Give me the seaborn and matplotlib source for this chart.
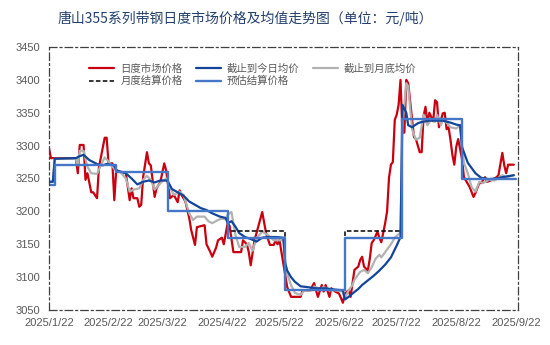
import matplotlib
matplotlib.use("Agg")
import matplotlib.pyplot as plt
import pandas as pd
import seaborn as sns

# ---- data -----------------------------------------------------------------
title = "唐山355系列带钢日度市场价格及均值走势图（单位：元/吨）"

# daily market price
daily_dates = [
    "2025-01-22", "2025-01-23", "2025-02-05", "2025-02-06", "2025-02-07", "2025-02-09",
    "2025-02-10", "2025-02-11", "2025-02-13", "2025-02-14", "2025-02-16", "2025-02-17",
    "2025-02-20", "2025-02-21", "2025-02-22", "2025-02-24", "2025-02-25", "2025-02-26",
    "2025-02-28", "2025-03-03", "2025-03-05", "2025-03-06", "2025-03-07", "2025-03-09",
    "2025-03-10", "2025-03-11", "2025-03-12", "2025-03-14", "2025-03-15", "2025-03-16",
    "2025-03-18", "2025-03-19", "2025-03-21", "2025-03-23", "2025-03-24", "2025-03-26",
    "2025-03-28", "2025-03-30", "2025-03-31", "2025-04-01", "2025-04-03", "2025-04-05",
    "2025-04-06", "2025-04-08", "2025-04-09", "2025-04-13", "2025-04-14", "2025-04-16",
    "2025-04-17", "2025-04-19", "2025-04-20", "2025-04-22", "2025-04-23", "2025-04-25",
    "2025-04-26", "2025-04-28", "2025-05-02", "2025-05-03", "2025-05-05", "2025-05-06",
    "2025-05-07", "2025-05-09", "2025-05-13", "2025-05-15", "2025-05-17", "2025-05-19",
    "2025-05-20", "2025-05-21", "2025-05-22", "2025-05-24", "2025-05-26", "2025-05-28",
    "2025-06-02", "2025-06-03", "2025-06-07", "2025-06-09", "2025-06-10", "2025-06-11",
    "2025-06-13", "2025-06-14", "2025-06-15", "2025-06-17", "2025-06-18", "2025-06-20",
    "2025-06-22", "2025-06-24", "2025-06-25", "2025-06-27", "2025-06-28", "2025-06-29",
    "2025-06-30", "2025-07-02", "2025-07-03", "2025-07-04", "2025-07-05", "2025-07-07",
    "2025-07-08", "2025-07-09", "2025-07-10", "2025-07-12", "2025-07-13", "2025-07-14",
    "2025-07-16", "2025-07-17", "2025-07-18", "2025-07-19", "2025-07-20", "2025-07-21",
    "2025-07-22", "2025-07-23", "2025-07-24", "2025-07-25", "2025-07-26", "2025-07-27",
    "2025-07-28", "2025-07-31", "2025-08-01", "2025-08-03", "2025-08-04", "2025-08-05",
    "2025-08-06", "2025-08-07", "2025-08-08", "2025-08-10", "2025-08-11", "2025-08-12",
    "2025-08-13", "2025-08-15", "2025-08-16", "2025-08-17", "2025-08-18", "2025-08-19",
    "2025-08-20", "2025-08-21", "2025-08-22", "2025-08-23", "2025-08-25", "2025-08-26",
    "2025-08-29", "2025-08-31", "2025-09-01", "2025-09-03", "2025-09-04", "2025-09-06",
    "2025-09-07", "2025-09-09", "2025-09-12", "2025-09-13", "2025-09-15", "2025-09-16",
    "2025-09-17", "2025-09-18", "2025-09-21",
]
daily_price = [
    3296, 3281, 3281, 3258, 3301, 3301,
    3248, 3258, 3229, 3229, 3220, 3267,
    3312, 3312, 3273, 3273, 3217, 3263,
    3260, 3258, 3217, 3235, 3220, 3220,
    3207, 3210, 3252, 3290, 3273, 3270,
    3222, 3235, 3245, 3273, 3262, 3220,
    3225, 3214, 3232, 3225, 3215, 3190,
    3172, 3149, 3176, 3179, 3150, 3138,
    3131, 3145, 3156, 3160, 3150, 3182,
    3178, 3138, 3138, 3156, 3150, 3138,
    3118, 3156, 3199, 3167, 3149, 3149,
    3156, 3150, 3156, 3121, 3085, 3070,
    3070, 3080, 3080, 3091, 3080, 3070,
    3088, 3078, 3088, 3070, 3083, 3078,
    3075, 3061, 3075, 3080, 3070, 3090,
    3111, 3116, 3126, 3131, 3116, 3110,
    3128, 3152, 3156, 3169, 3160, 3153,
    3182, 3200, 3251, 3271, 3275, 3339,
    3347, 3362, 3400, 3319, 3320, 3400,
    3395, 3313, 3310, 3290, 3290, 3345,
    3359, 3334, 3350, 3337, 3369, 3366,
    3328, 3349, 3350, 3325, 3328, 3309,
    3286, 3271, 3298, 3310, 3280, 3252,
    3237, 3222, 3228, 3243, 3243, 3252,
    3245, 3247, 3252, 3255, 3289, 3270,
    3258, 3271, 3271,
]

# month-to-date average
mtd_dates = [
    "2025-01-22", "2025-01-24", "2025-01-25", "2025-02-05", "2025-02-07", "2025-02-09",
    "2025-02-12", "2025-02-16", "2025-02-19", "2025-02-21", "2025-02-25",
    "2025-02-26", "2025-03-01", "2025-03-03", "2025-03-06", "2025-03-09", "2025-03-12",
    "2025-03-15", "2025-03-18", "2025-03-21", "2025-03-24",
    "2025-03-25", "2025-03-27", "2025-03-30", "2025-04-02", "2025-04-05", "2025-04-08",
    "2025-04-11", "2025-04-14", "2025-04-17", "2025-04-21", "2025-04-24",
    "2025-04-25", "2025-04-27", "2025-04-29", "2025-05-01", "2025-05-04", "2025-05-07",
    "2025-05-10", "2025-05-13", "2025-05-16", "2025-05-20", "2025-05-24",
    "2025-05-25", "2025-05-26", "2025-05-28", "2025-05-30", "2025-06-02", "2025-06-05",
    "2025-06-10", "2025-06-15", "2025-06-20", "2025-06-24",
    "2025-06-25", "2025-06-27", "2025-06-29", "2025-07-02", "2025-07-04", "2025-07-07",
    "2025-07-10", "2025-07-13", "2025-07-16", "2025-07-19", "2025-07-22", "2025-07-24",
    "2025-07-25", "2025-07-27", "2025-07-28", "2025-07-30", "2025-08-02", "2025-08-04",
    "2025-08-08", "2025-08-12", "2025-08-15", "2025-08-19", "2025-08-22", "2025-08-24",
    "2025-08-25", "2025-08-28", "2025-09-01", "2025-09-04", "2025-09-08", "2025-09-12",
    "2025-09-15", "2025-09-19", "2025-09-21",
]
mtd_avg = [
    3245, 3245, 3280, 3281, 3284, 3286,
    3278, 3272, 3270, 3272, 3270,
    3262, 3260, 3258, 3250, 3241, 3245,
    3247, 3244, 3247, 3247,
    3245, 3234, 3229, 3224, 3215, 3210,
    3205, 3202, 3197, 3192, 3190,
    3182, 3185, 3177, 3167, 3161, 3158,
    3154, 3160, 3161, 3161, 3160,
    3121, 3110, 3100, 3093, 3086, 3085,
    3083, 3083, 3081, 3080,
    3066, 3070, 3075, 3082, 3088, 3095,
    3102, 3110, 3119, 3130, 3148, 3161,
    3362, 3350, 3331, 3328, 3334, 3336,
    3338, 3338, 3338, 3335, 3332, 3331,
    3298, 3274, 3258, 3251, 3249, 3250,
    3252, 3254, 3255,
]

# month-end average estimate
eom_dates = [
    "2025-01-22", "2025-01-24", "2025-01-25", "2025-02-05", "2025-02-06", "2025-02-07",
    "2025-02-09", "2025-02-11", "2025-02-13", "2025-02-16", "2025-02-18", "2025-02-20",
    "2025-02-22", "2025-02-24",
    "2025-02-26", "2025-02-28", "2025-03-03", "2025-03-05", "2025-03-07", "2025-03-10",
    "2025-03-12", "2025-03-14", "2025-03-16", "2025-03-18", "2025-03-21", "2025-03-24",
    "2025-03-25", "2025-03-28", "2025-03-31", "2025-04-02", "2025-04-05", "2025-04-07",
    "2025-04-09", "2025-04-13", "2025-04-15", "2025-04-17", "2025-04-20", "2025-04-22",
    "2025-04-24",
    "2025-04-25", "2025-04-27", "2025-04-29", "2025-05-01", "2025-05-04", "2025-05-06",
    "2025-05-08", "2025-05-10", "2025-05-13", "2025-05-16", "2025-05-19", "2025-05-22",
    "2025-05-24",
    "2025-05-25", "2025-05-26", "2025-05-28", "2025-05-30", "2025-06-02", "2025-06-04",
    "2025-06-08", "2025-06-09", "2025-06-12", "2025-06-14", "2025-06-17", "2025-06-20",
    "2025-06-24",
    "2025-06-25", "2025-06-27", "2025-06-29", "2025-06-30", "2025-07-03", "2025-07-05",
    "2025-07-07", "2025-07-09", "2025-07-11", "2025-07-13", "2025-07-14", "2025-07-16",
    "2025-07-19", "2025-07-21", "2025-07-24",
    "2025-07-25", "2025-07-27", "2025-07-28", "2025-07-30", "2025-08-01", "2025-08-03",
    "2025-08-05", "2025-08-07", "2025-08-09", "2025-08-11", "2025-08-12", "2025-08-14",
    "2025-08-15", "2025-08-17", "2025-08-19", "2025-08-22", "2025-08-24",
    "2025-08-25", "2025-08-26", "2025-08-28", "2025-08-30", "2025-09-01", "2025-09-03",
    "2025-09-05", "2025-09-08", "2025-09-11", "2025-09-13", "2025-09-15", "2025-09-17",
    "2025-09-21",
]
eom_avg = [
    3245, 3245, 3280, 3280, 3270, 3292,
    3292, 3268, 3258, 3257, 3270, 3282,
    3276, 3268,
    3262, 3260, 3250, 3230, 3233, 3235,
    3248, 3254, 3248, 3233, 3243, 3250,
    3242, 3225, 3230, 3225, 3197, 3187,
    3192, 3192, 3185, 3182, 3187, 3189,
    3188,
    3195, 3199, 3165, 3146, 3146, 3152,
    3140, 3159, 3169, 3164, 3156, 3156,
    3156,
    3120, 3105, 3088, 3076, 3073, 3080,
    3080, 3086, 3082, 3085, 3080, 3080,
    3078,
    3068, 3080, 3088, 3096, 3108, 3111,
    3106, 3115, 3128, 3134, 3130, 3138,
    3150, 3160, 3168,
    3330, 3395, 3390, 3325, 3309, 3312,
    3347, 3331, 3340, 3336, 3347, 3331,
    3339, 3335, 3328, 3326, 3331,
    3301, 3274, 3258, 3237, 3230, 3245,
    3243, 3248, 3247, 3251, 3255, 3252,
    3255,
]

# settlement periods (start dates, last entry closes the final period)
period_starts = [
    "2025-01-22", "2025-01-25", "2025-02-26", "2025-03-25", "2025-04-25",
    "2025-05-25", "2025-06-25", "2025-07-25", "2025-08-25", "2025-09-22",
]
est_settle = [3240, 3270, 3260, 3200, 3160, 3080, 3160, 3340, 3250, 3250]
month_settle = [3240, 3270, 3260, 3200, 3170, 3080, 3170, 3340, 3250, 3250]

tick_dates = [
    "2025-01-22", "2025-02-22", "2025-03-22", "2025-04-22", "2025-05-22",
    "2025-06-22", "2025-07-22", "2025-08-22", "2025-09-22",
]
tick_labels = [
    "2025/1/22", "2025/2/22", "2025/3/22", "2025/4/22", "2025/5/22",
    "2025/6/22", "2025/7/22", "2025/8/22", "2025/9/22",
]
y_ticks = [3050, 3100, 3150, 3200, 3250, 3300, 3350, 3400, 3450]

# ---- style ----------------------------------------------------------------
sns.set_style("white")
plt.rcParams["font.family"] = ["Noto Sans CJK SC", "DejaVu Sans"]

RED = "#C8000F"
NAVY = "#12449A"
GREY = "#B2B2B2"
LBLUE = "#4676C8"
TXT = "#595959"

fig = plt.figure(figsize=(5.5, 3.45), dpi=100)
ax = fig.add_axes([49 / 550, 1 - 310 / 345, (517.7 - 49) / 550, (310 - 47) / 345])

sns.lineplot(x=pd.to_datetime(daily_dates), y=daily_price, color=RED, lw=1.6,
             label="日度市场价格", ax=ax)
sns.lineplot(x=pd.to_datetime(eom_dates), y=eom_avg, color=GREY, lw=1.6,
             label="截止到月底均价", ax=ax)
sns.lineplot(x=pd.to_datetime(mtd_dates), y=mtd_avg, color=NAVY, lw=1.6,
             label="截止到今日均价", ax=ax)
sns.lineplot(x=pd.to_datetime(period_starts), y=month_settle, color="black", lw=1.1,
             linestyle=(0, (3, 1.5)), drawstyle="steps-post",
             label="月度结算价格", ax=ax)
sns.lineplot(x=pd.to_datetime(period_starts), y=est_settle, color=LBLUE, lw=1.7,
             drawstyle="steps-post", label="预估结算价格", ax=ax)

ax.set_xlim(pd.Timestamp("2025-01-22"), pd.Timestamp("2025-09-23"))
ax.set_ylim(3050, 3450)
ax.set_yticks(y_ticks)
ax.set_xticks(pd.to_datetime(tick_dates))
ax.set_xticklabels(tick_labels)
ax.set_xlabel("")
ax.set_ylabel("")

ax.tick_params(axis="both", direction="out", length=3, width=0.8, color="#8C8C8C",
               labelsize=8, labelcolor=TXT, pad=3)
for lbl in ax.get_xticklabels() + ax.get_yticklabels():
    lbl.set_fontfamily("Liberation Sans")

for side in ["left", "right", "top", "bottom"]:
    sp = ax.spines[side]
    sp.set_visible(True)
    sp.set_linestyle((0, (6, 2.5, 1.5, 2.5)))
    sp.set_linewidth(0.9)
    sp.set_color("#404040")

handles, labels = ax.get_legend_handles_labels()
lookup = dict(zip(labels, handles))
order = ["日度市场价格", "月度结算价格", "截止到今日均价", "预估结算价格", "截止到月底均价"]
leg = ax.legend([lookup[k] for k in order], order, ncol=3, loc="upper left",
                bbox_to_anchor=(0.086, 0.938), frameon=False, fontsize=7.5,
                handlelength=2.4, handletextpad=0.6, columnspacing=1.25,
                labelspacing=0.22, borderpad=0, borderaxespad=0)
for t in leg.get_texts():
    t.set_color(TXT)

fig.text(58 / 550, 1 - 18 / 345, title, fontsize=10, color="#24406E",
         ha="left", va="center")

fig.savefig("out.png", dpi=100, facecolor="white")
